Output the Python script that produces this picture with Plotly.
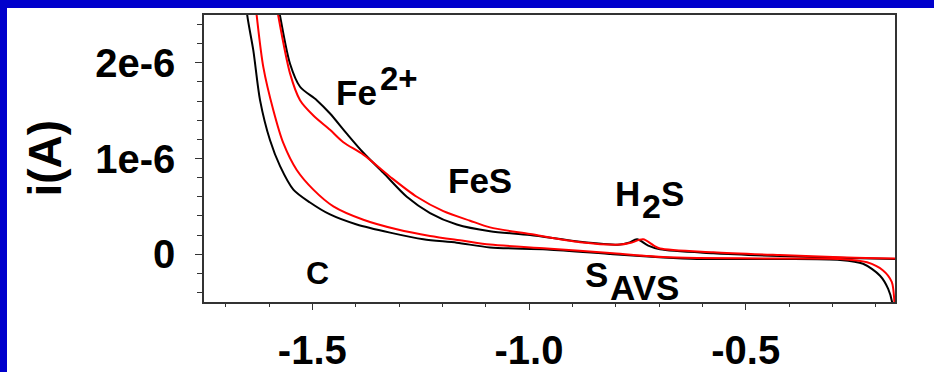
import numpy as np
import plotly.graph_objects as go

# Cyclic voltammograms: potential (V) and current (µA) for each branch
v_black_up = [-1.593, -1.5745, -1.5515, -1.5284, -1.4898, -1.4592, -1.4206, -1.3823, -1.3361,
              -1.2821, -1.2284, -1.1667, -1.0899, -0.9976, -0.8822, -0.7899, -0.770, -0.7506,
              -0.725, -0.6976, -0.575, -0.4208, -0.2662, -0.1555]
i_black_up = [2.96, 2.49, 1.99, 1.75, 1.61, 1.47, 1.26, 1.06, 0.85,
              0.60, 0.43, 0.31, 0.24, 0.20, 0.13, 0.10, 0.12, 0.155,
              0.09, 0.05, 0.01, -0.02, -0.04, -0.05]

v_red_up = [-1.5953, -1.5785, -1.5515, -1.5284, -1.4977, -1.4592, -1.4285, -1.3823, -1.3207,
            -1.2591, -1.1977, -1.1361, -1.0899, -0.9976, -0.8822, -0.7899, -0.765, -0.7368,
            -0.712, -0.6976, -0.575, -0.4208, -0.2662, -0.1555]
i_red_up = [2.96, 2.49, 1.89, 1.61, 1.45, 1.30, 1.17, 1.04, 0.81,
            0.60, 0.45, 0.35, 0.28, 0.21, 0.125, 0.10, 0.12, 0.155,
            0.09, 0.06, 0.02, -0.01, -0.035, -0.045]

v_black_low = [-1.660, -1.650, -1.6362, -1.6207, -1.5976, -1.5745, -1.5438, -1.5053, -1.4592,
               -1.3975, -1.3207, -1.2438, -1.1667, -1.0899, -0.9584, -0.806, -0.6906, -0.6122,
               -0.4208, -0.2823, -0.2292, -0.190, -0.1715, -0.1623, -0.158]
i_black_low = [2.96, 2.49, 2.13, 1.61, 1.19, 0.92, 0.675, 0.54, 0.415,
               0.31, 0.225, 0.155, 0.12, 0.07, 0.05, 0.0, -0.035, -0.05,
               -0.05, -0.06, -0.10, -0.225, -0.36, -0.50, -0.78]

v_red_low = [-1.639, -1.6283, -1.6131, -1.590, -1.5669, -1.536, -1.4977, -1.4515, -1.3823,
             -1.3052, -1.2284, -1.1515, -1.0899, -0.9584, -0.806, -0.6906, -0.6122, -0.4208,
             -0.2823, -0.220, -0.183, -0.163, -0.1568, -0.154]
i_red_low = [2.96, 2.49, 1.955, 1.505, 1.16, 0.88, 0.675, 0.50, 0.36,
             0.26, 0.19, 0.14, 0.10, 0.06, 0.01, -0.03, -0.04, -0.045,
             -0.05, -0.085, -0.17, -0.29, -0.50, -0.78]

x_tickvals = [-1.5, -1.0, -0.5]
x_ticktext = ["-1.5", "-1.0", "-0.5"]
y_tickvals = [0, 1e-6, 2e-6]
y_ticktext = ["0", "1e-6", "2e-6"]

FONT = "Arial, 'Liberation Sans', sans-serif"
BLUE = "#0000CC"
AXIS = "#333333"

W, H = 934, 372
ML, MR, MT, MB = 204, 39, 15, 70
PW, PH = W - ML - MR, H - MT - MB


def px_to_paper(px, py):
    return (px - ML) / PW, (H - MB - py) / PH


fig = go.Figure()
for v, i, col in [(v_black_up, i_black_up, "black"), (v_black_low, i_black_low, "black"),
                  (v_red_up, i_red_up, "red"), (v_red_low, i_red_low, "red")]:
    fig.add_trace(go.Scatter(
        x=v, y=np.array(i) * 1e-6, mode="lines",
        line=dict(color=col, width=2, shape="spline", smoothing=0.8),
        showlegend=False, hoverinfo="skip"))

# peak / species labels (pieces so sub/superscripts stay full size)
labels = [
    ("Fe", -1.4458, 1.693e-6, 35),
    ("2+", -1.3438, 1.838e-6, 33),
    ("FeS", -1.188, 0.774e-6, 35),
    ("H", -0.8019, 0.633e-6, 35),
    ("2", -0.7391, 0.502e-6, 34),
    ("S", -0.6964, 0.633e-6, 35),
    ("S", -0.8702, -0.213e-6, 35),
    ("AVS", -0.8130, -0.353e-6, 35),
    ("C", -1.5150, -0.195e-6, 32),
]
for txt, x, y, fs in labels:
    fig.add_annotation(x=x, y=y, xref="x", yref="y", text=txt, showarrow=False,
                       xanchor="left", yanchor="middle", borderpad=0, borderwidth=0,
                       font=dict(family=FONT, size=fs, color="black", weight="bold"))

# y-axis title
tx, ty = px_to_paper(44, 158.5)
fig.add_annotation(x=tx, y=ty, xref="paper", yref="paper", text="i(A)", textangle=-90,
                   showarrow=False, xanchor="center", yanchor="middle",
                   font=dict(family=FONT, size=46, color="black", weight="bold"))

# blue border strips along the top and left edges
x0, y0 = px_to_paper(0, 0)
x1, y1 = px_to_paper(W, 8)
fig.add_shape(type="rect", xref="paper", yref="paper", x0=x0, x1=x1, y0=y1, y1=y0,
              fillcolor=BLUE, line_width=0, layer="above")
x0, y0 = px_to_paper(0, 0)
x1, y1 = px_to_paper(7, H)
fig.add_shape(type="rect", xref="paper", yref="paper", x0=x0, x1=x1, y0=y1, y1=y0,
              fillcolor=BLUE, line_width=0, layer="above")

fig.update_layout(
    width=W, height=H,
    margin=dict(l=ML, r=MR, t=MT, b=MB, pad=0),
    paper_bgcolor="white", plot_bgcolor="white",
    showlegend=False,
    xaxis=dict(range=[-1.75, -0.1555], tickmode="array", tickvals=x_tickvals, ticktext=x_ticktext,
               ticks="outside", ticklen=6, tickwidth=1, tickcolor=AXIS, automargin=False,
               minor=dict(tickmode="linear", tick0=0, dtick=0.1, ticks="outside", ticklen=3,
                          tickcolor=AXIS, tickwidth=1),
               showline=True, linecolor=AXIS, linewidth=1.5, mirror=True,
               showgrid=False, zeroline=False, ticklabelstandoff=6,
               tickfont=dict(family=FONT, size=40, color="black", weight="bold")),
    yaxis=dict(range=[-0.5e-6, 2.5e-6], tickmode="array", tickvals=y_tickvals, ticktext=y_ticktext,
               ticks="outside", ticklen=7, tickwidth=1, tickcolor=AXIS, automargin=False,
               minor=dict(tickmode="linear", tick0=0, dtick=0.2e-6, ticks="outside", ticklen=5,
                          tickcolor=AXIS, tickwidth=1),
               showline=True, linecolor=AXIS, linewidth=1.5, mirror=True,
               showgrid=False, zeroline=False, ticklabelstandoff=12,
               tickfont=dict(family=FONT, size=40, color="black", weight="bold")),
)

fig.write_html("out.html")
